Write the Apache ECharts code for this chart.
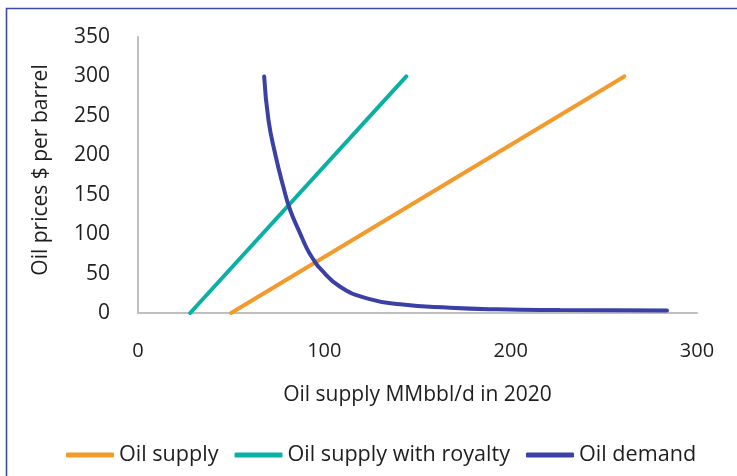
<!DOCTYPE html>
<html>
<head>
<meta charset="utf-8">
<script src="https://cdn.jsdelivr.net/npm/echarts@6/dist/echarts.min.js"></script>
<style>
  html, body { margin: 0; padding: 0; background: #fff; }
  #chart { width: 737px; height: 476px; }
</style>
</head>
<body>
<div id="chart"></div>
<script>
// Series names (legend order)
const seriesNames = ['Oil supply', 'Oil supply with royalty', 'Oil demand'];

// Oil supply: [MMbbl/d, $ per barrel]
const oilSupply = [[50, 0], [261, 300]];

// Oil supply with royalty
const oilSupplyRoyalty = [[28, 0], [144, 300]];

// Oil demand curve
const oilDemand = [
  [67.7, 300], [70.0, 245], [73.6, 202], [78.0, 160], [81.6, 131],
  [87.0, 101], [90.6, 82], [94.1, 68], [97.7, 56.5], [108.5, 33.3],
  [122.8, 18.6], [140.7, 11.0], [167.5, 6.7], [192.6, 4.7],
  [226.6, 3.8], [283.9, 3.2]
];

// Axis ranges
const xRange = { min: 0, max: 300, interval: 100 };
const yRange = { min: 0, max: 350, interval: 50 };

const colors = ['#F39A2C', '#0BB0A5', '#3A40A6'];
const font = 'Open Sans';
const textColor = '#1e1e1e';

const chart = echarts.init(document.getElementById('chart'), null, { renderer: 'canvas' });

const lineSeries = (name, data, color, smooth) => ({
  name: name,
  type: 'line',
  data: data,
  smooth: smooth,
  showSymbol: false,
  symbol: 'none',
  lineStyle: { color: color, width: 4, cap: 'round' },
  itemStyle: { color: color },
  animation: false
});

chart.setOption({
  animation: false,
  backgroundColor: '#fff',
  textStyle: { fontFamily: font },
  grid: { left: 138, top: 37, right: 40, bottom: 163, containLabel: false },
  legend: {
    bottom: 5,
    left: 61,
    itemWidth: 48,
    itemHeight: 5,
    itemGap: 16,
    icon: 'roundRect',
    textStyle: { fontFamily: font, fontSize: 21.6, color: textColor },
    data: seriesNames
  },
  xAxis: {
    type: 'value',
    min: xRange.min,
    max: xRange.max,
    interval: xRange.interval,
    name: 'Oil supply MMbbl/d in 2020',
    nameLocation: 'middle',
    nameGap: 72,
    nameTextStyle: { fontFamily: font, fontSize: 21, color: textColor },
    axisLine: { show: true, lineStyle: { color: '#BFBFBF', width: 2 } },
    axisTick: { show: false },
    splitLine: { show: false },
    axisLabel: { fontFamily: font, fontSize: 20, color: textColor, margin: 28 }
  },
  yAxis: {
    type: 'value',
    min: yRange.min,
    max: yRange.max,
    interval: yRange.interval,
    name: 'Oil prices $ per barrel',
    nameLocation: 'middle',
    nameGap: 86,
    nameTextStyle: { fontFamily: font, fontSize: 21, color: textColor, padding: [0, 0, 0, 10] },
    axisLine: { show: true, lineStyle: { color: '#BFBFBF', width: 2 } },
    axisTick: { show: false },
    splitLine: { show: false },
    axisLabel: { fontFamily: font, fontSize: 21, color: textColor, margin: 28 }
  },
  series: [
    lineSeries(seriesNames[0], oilSupply, colors[0], false),
    lineSeries(seriesNames[1], oilSupplyRoyalty, colors[1], false),
    lineSeries(seriesNames[2], oilDemand, colors[2], 0.5)
  ],
  graphic: [{
    type: 'polyline',
    silent: true,
    shape: { points: [[6.5, 476], [6.5, 8.5], [737, 8.5]] },
    style: { stroke: '#3C4AA8', lineWidth: 1.6, fill: null }
  }]
});
</script>
</body>
</html>
